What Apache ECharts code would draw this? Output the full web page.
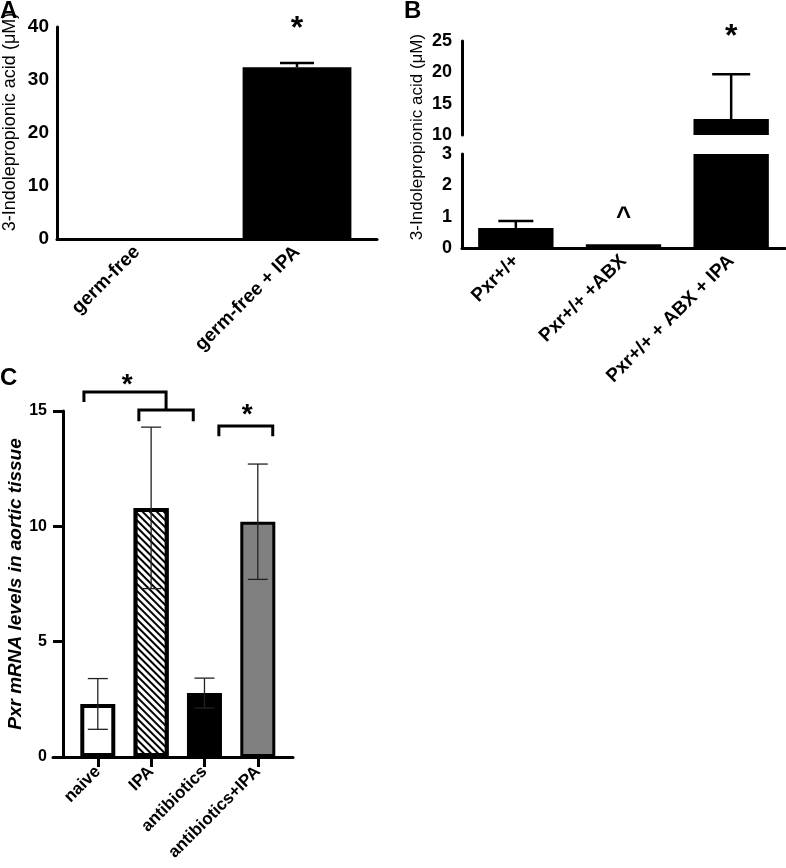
<!DOCTYPE html>
<html>
<head>
<meta charset="utf-8">
<script src="https://cdn.jsdelivr.net/npm/echarts@6/dist/echarts.min.js"></script>
<style>
  html, body { margin: 0; padding: 0; background: #fff; }
  #chart { width: 786px; height: 868px; }
</style>
</head>
<body>
<div id="chart"></div>
<script>
// panel A: germ-free mice
const aCats = ["germ-free", "germ-free + IPA"];
const aMean = [0.2, 32.4];
const aErr = [0, 0.8];

// panel B: Pxr+/+ mice (broken axis 0-3 / 10-25)
const bCats = ["Pxr+/+", "Pxr+/+ +ABX", "Pxr+/+ + ABX + IPA"];
const bMean = [0.64, 0.12, 12.55];
const bErr = [0.22, 0, 7.15];
const bLowTicks = [0, 3, 1];   // min, max, step
const bHighTicks = [10, 25, 5];

// panel C: aortic Pxr mRNA
const cCats = ["naive", "IPA", "antibiotics", "antibiotics+IPA"];
const cMean = [2.3, 10.8, 2.77, 10.2];
const cErr = [1.1, 3.5, 0.65, 2.5];
// brackets: x left, x right, y line, y left end, y right end
const cBrackets = [
  [-0.26, 1.28, 15.82, 15.39, 15.04],
  [0.77, 1.79, 15.04, 14.56, 14.56],
  [2.27, 3.28, 14.35, 13.91, 13.91],
];

// significance marks: [category, y, text]
const aMarks = [[1, 39.6, "*"]];
const bHighMarks = [[2, 25.6, "*"]];
const bLowMarks = [[1, 0.95, "^"]];
const cMarks = [[0.55, 16.1, "*"], [2.8, 14.8, "*"]];

const FONT = '"Liberation Sans", Arial, sans-serif';

const cStyles = [
  { color: "#fff", borderColor: "#000", borderWidth: 4 },
  {
    color: "#fff", borderColor: "#000", borderWidth: 4,
    decal: {
      symbol: "rect", symbolSize: 1,
      dashArrayX: [1, 0], dashArrayY: [2, 2.8],
      rotation: Math.PI / 4, color: "#000", backgroundColor: "#fff",
    },
  },
  { color: "#000" },
  { color: "#808080", borderColor: "#000", borderWidth: 3 },
];

function axisLineStyle() {
  return { show: true, onZero: false, lineStyle: { color: "#000", width: 3 } };
}

function errorBars(cap, lw, both, color) {
  return function (params, api) {
    const x = api.value(0), m = api.value(1), e = api.value(2);
    const top = api.coord([x, m + e]);
    const base = api.coord([x, both ? m - e : m]);
    const st = { stroke: color, lineWidth: lw };
    const kids = [
      { type: "line", shape: { x1: top[0], y1: top[1], x2: base[0], y2: base[1] }, style: st },
      { type: "line", shape: { x1: top[0] - cap / 2, y1: top[1], x2: top[0] + cap / 2, y2: top[1] }, style: st },
    ];
    if (both) {
      kids.push({ type: "line", shape: { x1: base[0] - cap / 2, y1: base[1], x2: base[0] + cap / 2, y2: base[1] }, style: st });
    }
    return { type: "group", children: kids };
  };
}

function marks(list, size, weight) {
  return function (params, api) {
    const d = list[params.dataIndex];
    const p = api.coord([d[0], d[1]]);
    return {
      type: "text", x: p[0], y: p[1],
      style: {
        text: d[2], fill: "#000", align: "center", verticalAlign: "middle",
        font: weight + " " + size + "px " + FONT,
      },
    };
  };
}

function bracketItem(params, api) {
  const d = cBrackets[params.dataIndex];
  const l = api.coord([d[0], d[2]]);
  const r = api.coord([d[1], d[2]]);
  const le = api.coord([d[0], d[3]]);
  const re = api.coord([d[1], d[4]]);
  return {
    type: "polyline",
    shape: { points: [[le[0], le[1]], [l[0], l[1]], [r[0], r[1]], [re[0], re[1]]] },
    style: { stroke: "#000", lineWidth: 3, fill: null },
  };
}

const chart = echarts.init(document.getElementById("chart"));

const option = {
  backgroundColor: "#fff",
  animation: false,
  title: [
    { text: "A", left: 0, top: -1, padding: 0, textStyle: { fontSize: 24, fontWeight: "bold", fontFamily: FONT, color: "#000" } },
    { text: "B", left: 404, top: -1, padding: 0, textStyle: { fontSize: 24, fontWeight: "bold", fontFamily: FONT, color: "#000" } },
    { text: "C", left: 0, top: 366, padding: 0, textStyle: { fontSize: 24, fontWeight: "bold", fontFamily: FONT, color: "#000" } },
  ],
  graphic: [
    {
      type: "text", x: 10, y: 122, rotation: Math.PI / 2,
      style: { text: "3-Indolepropionic acid (\u03bcM)", font: "18px " + FONT, fill: "#000", align: "center", verticalAlign: "middle" },
    },
    {
      type: "text", x: 417, y: 137, rotation: Math.PI / 2,
      style: { text: "3-Indolepropionic acid (\u03bcM)", font: "17px " + FONT, fill: "#000", align: "center", verticalAlign: "middle" },
    },
  ],
  grid: [
    { left: 57, top: 27, width: 320, height: 212 },
    { left: 462, top: 41, width: 323, height: 94 },
    { left: 462, top: 154, width: 323, height: 94 },
    { left: 53, top: 411, width: 240, height: 346 },
  ],
  xAxis: [
    {
      type: "category", gridIndex: 0, data: aCats,
      axisLine: axisLineStyle(),
      axisTick: { alignWithLabel: true, length: 8, lineStyle: { width: 3, color: "#000" } },
      axisLabel: { rotate: 45, margin: 10, color: "#000", fontWeight: "bold", fontSize: 19, fontFamily: FONT },
    },
    { type: "category", gridIndex: 1, data: bCats, show: false },
    {
      type: "category", gridIndex: 2, data: bCats,
      axisLine: axisLineStyle(),
      axisTick: { alignWithLabel: true, length: 8, lineStyle: { width: 3, color: "#000" } },
      axisLabel: { rotate: 45, margin: 10, color: "#000", fontWeight: "bold", fontSize: 19, fontFamily: FONT },
    },
    {
      type: "value", gridIndex: 3, min: -0.84, max: 3.66,
      splitLine: { show: false },
      axisLine: axisLineStyle(),
      axisTick: { customValues: [0, 1, 2, 3], length: 10, lineStyle: { width: 3, color: "#000" } },
      axisLabel: {
        customValues: [0, 1, 2, 3], rotate: 45, margin: 12,
        formatter: (v) => cCats[v],
        color: "#000", fontWeight: "bold", fontSize: 17, fontFamily: FONT,
      },
    },
  ],
  yAxis: [
    {
      type: "value", gridIndex: 0, min: 0, max: 40, interval: 10,
      splitLine: { show: false },
      axisLine: axisLineStyle(),
      axisTick: { length: 7, lineStyle: { width: 3, color: "#000" } },
      axisLabel: { margin: 8, color: "#000", fontWeight: "bold", fontSize: 19, fontFamily: FONT },
    },
    {
      type: "value", gridIndex: 1, min: bHighTicks[0], max: bHighTicks[1], interval: bHighTicks[2],
      splitLine: { show: false },
      axisLine: axisLineStyle(),
      axisTick: { length: 10, lineStyle: { width: 3, color: "#000" } },
      axisLabel: { margin: 10, color: "#000", fontWeight: "bold", fontSize: 18, fontFamily: FONT },
    },
    {
      type: "value", gridIndex: 2, min: bLowTicks[0], max: bLowTicks[1], interval: bLowTicks[2],
      splitLine: { show: false },
      axisLine: axisLineStyle(),
      axisTick: { length: 10, lineStyle: { width: 3, color: "#000" } },
      axisLabel: { margin: 10, color: "#000", fontWeight: "bold", fontSize: 18, fontFamily: FONT },
    },
    {
      type: "value", gridIndex: 3, min: 0, max: 15, interval: 5, offset: -10,
      splitLine: { show: false },
      axisLine: axisLineStyle(),
      axisTick: { length: 10, lineStyle: { width: 3, color: "#000" } },
      axisLabel: { margin: 16, color: "#000", fontWeight: "bold", fontSize: 16, fontFamily: FONT },
      name: "Pxr mRNA levels in aortic tissue",
      nameLocation: "middle", nameGap: 38, nameRotate: 90,
      nameTextStyle: { color: "#000", fontWeight: "bold", fontStyle: "italic", fontSize: 19, fontFamily: FONT },
    },
  ],
  series: [
    // panel A
    { type: "bar", xAxisIndex: 0, yAxisIndex: 0, data: aMean, barWidth: "68%", itemStyle: { color: "#000" } },
    {
      type: "custom", xAxisIndex: 0, yAxisIndex: 0, z: 5,
      renderItem: errorBars(34, 2.5, false, "#000"),
      data: aMean.map((m, i) => [i, m, aErr[i]]).filter((d) => d[2] > 0),
    },
    { type: "custom", xAxisIndex: 0, yAxisIndex: 0, renderItem: marks(aMarks, 32, "bold"), data: aMarks.map((d) => [d[0], d[1]]) },

    // panel B, lower and upper segments
    { type: "bar", xAxisIndex: 2, yAxisIndex: 2, data: bMean, barWidth: "70%", itemStyle: { color: "#000" }, clip: true },
    {
      type: "bar", xAxisIndex: 1, yAxisIndex: 1, barWidth: "70%", itemStyle: { color: "#000" }, clip: true,
      data: bMean.map((v) => (v > bHighTicks[0] ? v : "-")),
    },
    {
      type: "custom", xAxisIndex: 2, yAxisIndex: 2, z: 5,
      renderItem: errorBars(35, 2.5, false, "#000"),
      data: bMean.map((m, i) => [i, m, bErr[i]]).filter((d) => d[2] > 0 && d[1] + d[2] <= bLowTicks[1]),
    },
    {
      type: "custom", xAxisIndex: 1, yAxisIndex: 1, z: 5,
      renderItem: errorBars(38, 2.5, false, "#000"),
      data: bMean.map((m, i) => [i, m, bErr[i]]).filter((d) => d[2] > 0 && d[1] > bHighTicks[0]),
    },
    { type: "custom", xAxisIndex: 1, yAxisIndex: 1, renderItem: marks(bHighMarks, 32, "bold"), data: bHighMarks.map((d) => [d[0], d[1]]) },
    { type: "custom", xAxisIndex: 2, yAxisIndex: 2, renderItem: marks(bLowMarks, 26, "bold"), data: bLowMarks.map((d) => [d[0], d[1]]) },

    // panel C
    {
      type: "bar", xAxisIndex: 3, yAxisIndex: 3, barWidth: 35,
      data: cMean.map((m, i) => ({ value: [i, m], itemStyle: cStyles[i] })),
    },
    {
      type: "custom", xAxisIndex: 3, yAxisIndex: 3, z: 5,
      renderItem: errorBars(20, 1.3, true, "#222"),
      data: cMean.map((m, i) => [i, m, cErr[i]]),
    },
    { type: "custom", xAxisIndex: 3, yAxisIndex: 3, renderItem: bracketItem, data: cBrackets.map((d) => [d[0], d[2]]) },
    { type: "custom", xAxisIndex: 3, yAxisIndex: 3, renderItem: marks(cMarks, 28, "bold"), data: cMarks.map((d) => [d[0], d[1]]) },
  ],
};

chart.setOption(option);
window.addEventListener("resize", () => chart.resize());
</script>
</body>
</html>
